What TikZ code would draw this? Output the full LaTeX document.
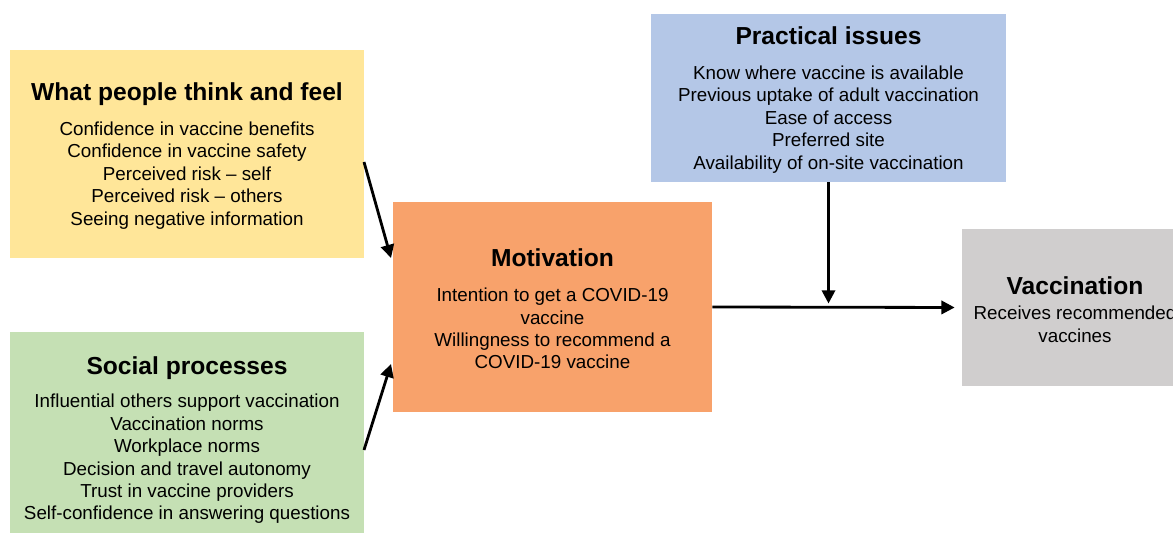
\documentclass[tikz,border=0pt]{standalone}
\usepackage{fontspec}
\setmainfont{Liberation Sans}
\usetikzlibrary{arrows.meta}
\definecolor{thinkfill}{HTML}{FFE699}
\definecolor{socialfill}{HTML}{C5E0B4}
\definecolor{motivfill}{HTML}{F8A26B}
\definecolor{issuesfill}{HTML}{B4C7E7}
\definecolor{vaccfill}{HTML}{D0CECE}
\newcommand{\boxtitle}[1]{\rule{0pt}{12.5pt}\textbf{\fontsize{14}{17}\selectfont #1}}

\begin{document}
\begin{tikzpicture}[x=0.02cm,y=-0.02cm,
  box/.style={fill=#1,align=center,inner sep=0pt,
    font=\fontsize{10.7}{12.75}\selectfont},
  arr/.style={line width=1.6pt,-{Triangle[length=7.5pt,width=7.5pt]}}]
  \useasboundingbox (0,0) rectangle (1173,533);
  \clip (0,0) rectangle (1173,533);
  % the five boxes
  \node[box=thinkfill,minimum width=7.08cm,minimum height=4.16cm] (think) at (187,154)
    {\boxtitle{What people think and feel}\\[7pt]
     Confidence in vaccine benefits\\ Confidence in vaccine safety\\
     Perceived risk -- self\\ Perceived risk -- others\\ Seeing negative information};
  \node[box=socialfill,minimum width=7.08cm,minimum height=4.24cm] (social) at (187,438)
    {\boxtitle{Social processes}\\[6.5pt]
     Influential others support vaccination\\ Vaccination norms\\ Workplace norms\\
     Decision and travel autonomy\\ Trust in vaccine providers\\
     Self-confidence in answering questions};
  \node[box=motivfill,minimum width=6.38cm,minimum height=4.2cm] (motiv) at (552.5,307)
    {\boxtitle{Motivation}\\[7pt]
     Intention to get a COVID-19\\ vaccine\\ Willingness to recommend a\\ COVID-19 vaccine};
  \node[box=issuesfill,minimum width=7.1cm,minimum height=3.36cm] (issues) at (828.5,98)
    {\boxtitle{Practical issues}\\[7pt]
     Know where vaccine is available\\ Previous uptake of adult vaccination\\
     Ease of access\\ Preferred site\\ Availability of on-site vaccination};
  \node[box=vaccfill,minimum width=4.52cm,minimum height=3.14cm] (vacc) at (1075,307.5)
    {\boxtitle{Vaccination}\\[1.5pt] Receives recommended\\ vaccines};
  % arrows
  \coordinate (thinkout) at (364,162);
  \coordinate (thinkin) at (391,258);
  \coordinate (socialout) at (364,450);
  \coordinate (socialin) at (391,364);
  \coordinate (join) at (issues.south |- motiv.east);
  \draw[arr] (thinkout) -- (thinkin);
  \draw[arr] (socialout) -- (socialin);
  \draw[arr,shorten >=4pt] (motiv.east) -- (vacc.west);
  \draw[arr,shorten >=2pt] (issues.south) -- (join);
\end{tikzpicture}
\end{document}
